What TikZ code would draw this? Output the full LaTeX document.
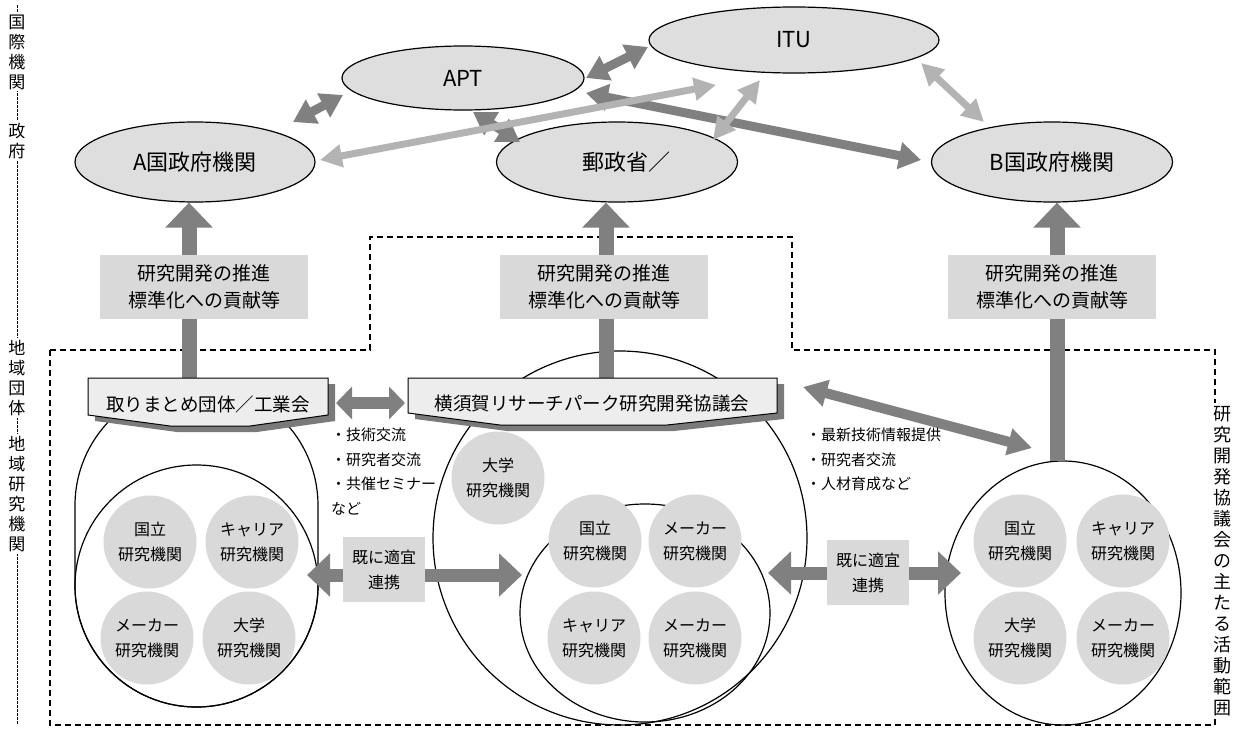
\documentclass[tikz,border=0pt]{standalone}
\usepackage{fontspec}
\setmainfont{Noto Sans CJK JP}
\usetikzlibrary{shapes.geometric,arrows.meta}
\definecolor{darkarr}{HTML}{808080}
\definecolor{lightarr}{HTML}{B3B3B3}
\definecolor{ellfill}{HTML}{DEDEDE}
\definecolor{boxfill}{HTML}{D9D9D9}
\definecolor{banfill}{HTML}{EDEDED}
\definecolor{shadowc}{HTML}{7A7A7A}
\tikzset{
  org/.style={ellipse, draw=black, line width=1.2pt, fill=ellfill, inner sep=0pt, font=\fontsize{22}{24}\selectfont},
  darrow/.style={draw=darkarr, line width=9pt, {Triangle[length=22pt,width=26pt]}-{Triangle[length=22pt,width=26pt]}},
  larrow/.style={draw=lightarr, line width=7pt, {Triangle[length=22pt,width=22pt]}-{Triangle[length=22pt,width=22pt]}},
  uparrow/.style={draw=darkarr, line width=15pt, -{Triangle[length=25pt,width=46pt]}},
  midarrow/.style={draw=darkarr, line width=12pt, {Triangle[length=16pt,width=32pt]}-{Triangle[length=16pt,width=32pt]}},
  infoarrow/.style={draw=darkarr, line width=10pt, {Triangle[length=24pt,width=26pt]}-{Triangle[length=24pt,width=26pt]}},
  linkarrow/.style={draw=darkarr, line width=13pt, {Triangle[length=23pt,width=42pt]}-{Triangle[length=23pt,width=42pt]}},
  labelbox/.style={fill=boxfill, minimum width=208pt, minimum height=64pt, inner sep=0pt, align=center, font=\fontsize{19}{27}\selectfont},
  linkbox/.style={fill=boxfill, minimum width=82pt, minimum height=65pt, inner sep=0pt, align=center, font=\fontsize{16}{25}\selectfont},
  smallc/.style={circle, fill=boxfill, minimum size=93pt, inner sep=0pt, align=center, font=\fontsize{16}{25}\selectfont},
  groupc/.style={ellipse, draw=black, line width=1.2pt, inner sep=0pt},
  bantext/.style={inner sep=0pt, font=\fontsize{18.5}{22}\selectfont},
  banshape/.style={fill=banfill, draw=black, line width=1pt},
  bullets/.style={align=left, anchor=north west, inner sep=0pt, font=\fontsize{15}{24.5}\selectfont},
  axlabel/.style={fill=white, inner xsep=1pt, inner ysep=2pt, align=center, font=\fontsize{17}{20}\selectfont},
  rangelabel/.style={fill=white, inner xsep=1pt, inner ysep=3pt, align=center, font=\fontsize{18}{21}\selectfont},
  region/.style={draw=black, line width=1.2pt, dash pattern=on 6pt off 4pt},
  axis/.style={draw=black, line width=0.6pt, dash pattern=on 2.5pt off 1.5pt}
}
\begin{document}
\begin{tikzpicture}[x=1pt,y=-1pt]
\useasboundingbox[fill=white] (0,0) rectangle (1244,731);

% left axis
\coordinate (axtop) at (17,5);
\coordinate (axbot) at (17,725);
\draw[axis] (axtop) -- (axbot);
\node[axlabel] (lbl1) at (17,52) {国\\際\\機\\関};
\node[axlabel] (lbl2) at (17,141) {政\\府};
\node[axlabel] (lbl3) at (17,378) {地\\域\\団\\体};
\node[axlabel] (lbl4) at (17,494) {地\\域\\研\\究\\機\\関};

% activity region (dashed)
\draw[region] (50,350) -- (370,350) -- (370,237) -- (792,237) -- (792,350) -- (1215,350) -- (1215,725) -- (50,725) -- cycle;
\node[rangelabel] (range) at (1222,561) {研\\究\\開\\発\\協\\議\\会\\の\\主\\た\\る\\活\\動\\範\\囲};

% top organisations
\node[org, minimum width=242pt, minimum height=64pt] (apt) at (463,78) {APT};
\node[org, minimum width=290pt, minimum height=66pt] (itu) at (794,40) {ITU};
\node[org, minimum width=240pt, minimum height=80pt] (gova) at (195,162) {A国政府機関};
\node[org, minimum width=241pt, minimum height=80pt] (mpt) at (617,162) {\hspace*{18pt}郵政省／};
\node[org, minimum width=241pt, minimum height=80pt] (govb) at (1052,162) {B国政府機関};

% arrows among top organisations
\coordinate (a1) at (293,122); \coordinate (a2) at (343,95);
\draw[darrow] (a1) -- (a2);
\coordinate (b1) at (586,78); \coordinate (b2) at (648,47);
\draw[darrow] (b1) -- (b2);
\coordinate (c1) at (473,112); \coordinate (c2) at (520,142);
\draw[darrow] (c1) -- (c2);
\coordinate (d1) at (586,93); \coordinate (d2) at (921,160);
\draw[darrow] (d1) -- (d2);
\coordinate (e1) at (320,160); \coordinate (e2) at (716,85);
\draw[larrow] (e1) -- (e2);
\coordinate (f1) at (713,140); \coordinate (f2) at (760,80);
\draw[larrow] (f1) -- (f2);
\coordinate (g1) at (921,63); \coordinate (g2) at (984,122);
\draw[larrow] (g1) -- (g2);

% group outlines
\draw[line width=1.2pt, rounded corners=121.5pt] (75,384) rectangle (318,707);
\node[groupc, minimum width=243pt, minimum height=242pt] (leftin) at (196.5,586) {};
\node[groupc, minimum width=374pt, minimum height=374pt] (midout) at (620,538) {};
\node[groupc, minimum width=250pt, minimum height=218pt] (midin) at (645,613) {};
\node[groupc, minimum width=236pt, minimum height=264pt] (rightg) at (1063,593) {};

% vertical arrows to governments
\coordinate (v1) at (189,378);
\draw[uparrow] (v1) -- (v1 |- gova.south);
\coordinate (v2) at (606,378);
\draw[uparrow] (v2) -- (v2 |- mpt.south);
\coordinate (v3) at (1057,461);
\draw[uparrow] (v3) -- (v3 |- govb.south);

% label boxes
\node[labelbox] (pa) at (204,287) {研究開発の推進\\標準化への貢献等};
\node[labelbox] (pm) at (604,287) {研究開発の推進\\標準化への貢献等};
\node[labelbox] (pb) at (1052,287) {研究開発の推進\\標準化への貢献等};

% arrows between banners and to right group
\coordinate (h1) at (336,403); \coordinate (h2) at (405,403);
\draw[midarrow] (h1) -- (h2);
\coordinate (i1) at (803,387); \coordinate (i2) at (1032,448);
\draw[infoarrow] (i1) -- (i2);

% banners
\begin{scope}[shift={(7,6)}]
\fill[shadowc] (88,378) -- (328,378) -- (328,415) -- (250,426) -- (170,426) -- (88,415) -- cycle;
\fill[shadowc] (408,378) -- (777,378) -- (777,413) -- (667,425) -- (500,425) -- (408,413) -- cycle;
\end{scope}
\draw[banshape] (88,378) -- (328,378) -- (328,415) -- (250,426) -- (170,426) -- (88,415) -- cycle;
\draw[banshape] (408,378) -- (777,378) -- (777,413) -- (667,425) -- (500,425) -- (408,413) -- cycle;
\node[bantext] (tori) at (208,404) {取りまとめ団体／工業会};
\node[bantext] (yrp) at (592,404) {横須賀リサーチパーク研究開発協議会};

% bullet texts
\node[bullets] (bl1) at (331,428) {・技術交流\\・研究者交流\\・共催セミナー\\など};
\node[bullets] (bl2) at (806,428) {・最新技術情報提供\\・研究者交流\\・人材育成など};

% small institutes: left group
\node[smallc] (l1) at (150,542) {国立\\研究機関};
\node[smallc] (l2) at (252,542) {キャリア\\研究機関};
\node[smallc] (l3) at (147,638) {メーカー\\研究機関};
\node[smallc] (l4) at (249,638) {大学\\研究機関};
% middle group
\node[smallc] (m0) at (498,478) {大学\\研究機関};
\node[smallc] (m1) at (595,541) {国立\\研究機関};
\node[smallc] (m2) at (695,541) {メーカー\\研究機関};
\node[smallc] (m3) at (594,638) {キャリア\\研究機関};
\node[smallc] (m4) at (695,638) {メーカー\\研究機関};
% right group
\node[smallc] (r1) at (1020,541) {国立\\研究機関};
\node[smallc] (r2) at (1123,541) {キャリア\\研究機関};
\node[smallc] (r3) at (1020,638) {大学\\研究機関};
\node[smallc] (r4) at (1123,638) {メーカー\\研究機関};

% link arrows
\coordinate (j1) at (307,575); \coordinate (j2) at (522,575);
\draw[linkarrow] (j1) -- (j2);
\coordinate (k1) at (768,573); \coordinate (k2) at (961,573);
\draw[linkarrow] (k1) -- (k2);
\node[linkbox] (lk1) at (384,569.5) {既に適宜\\連携};
\node[linkbox] (lk2) at (868,572.5) {既に適宜\\連携};
\end{tikzpicture}
\end{document}
